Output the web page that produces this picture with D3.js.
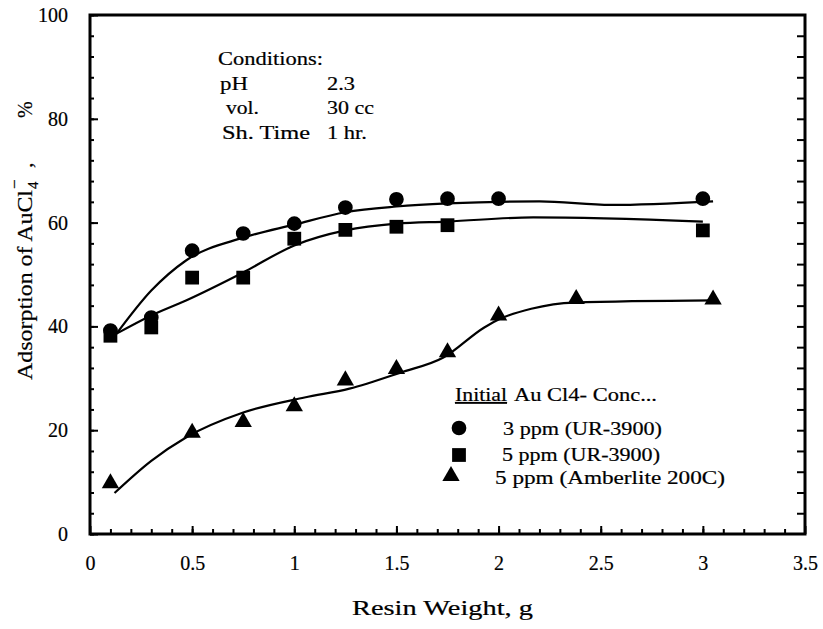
<!DOCTYPE html>
<html>
<head>
<meta charset="utf-8">
<script src="https://cdn.jsdelivr.net/npm/d3@7"></script>
<style>
  body { margin: 0; background: #fff; }
  svg { font-family: "Liberation Serif", "DejaVu Serif", serif; }
  svg text { fill: #000; stroke: #000; stroke-width: 0.2; }
  .axis path { display: none; }
  .axis line { stroke: #000; stroke-width: 2; }
  .axis text { font-size: 20px; font-family: "Liberation Serif", serif; }
  .fit { fill: none; stroke: #000; stroke-width: 2.2; }
</style>
</head>
<body>
<svg width="823" height="629"></svg>
<script>
// tick labels
var xTicks = [0, 0.5, 1, 1.5, 2, 2.5, 3, 3.5];
var yTicks = [0, 20, 40, 60, 80, 100];

// measured points
var circleX = [0.1, 0.3, 0.5, 0.75, 1, 1.25, 1.5, 1.75, 2, 3];
var circleY = [39.2, 41.7, 54.6, 57.9, 59.8, 62.9, 64.5, 64.6, 64.6, 64.6];
var squareX = [0.1, 0.3, 0.5, 0.75, 1, 1.25, 1.5, 1.75, 3];
var squareY = [38.2, 39.8, 49.4, 49.4, 56.9, 58.6, 59.2, 59.5, 58.5];
var triX = [0.1, 0.5, 0.75, 1, 1.25, 1.5, 1.75, 2, 2.38, 3.05];
var triY = [9.8, 19.5, 21.6, 24.6, 29.6, 31.8, 35, 42.1, 45.3, 45.2];

// hand-drawn fit curves
var circleFitX = [0.13, 0.3, 0.47, 0.75, 1, 1.25, 1.5, 1.75, 2.2, 2.55, 3.05];
var circleFitY = [38.6, 46.9, 52.7, 57.1, 59.6, 62, 63.1, 63.7, 64.1, 63.4, 64.1];
var squareFitX = [0.13, 0.3, 0.47, 0.75, 1, 1.25, 1.5, 1.75, 2.17, 3.0];
var squareFitY = [38.6, 42.1, 45, 50.4, 55.6, 58.5, 59.8, 60.2, 61, 60.2];
var triFitX = [0.12, 0.3, 0.47, 0.75, 1.05, 1.27, 1.52, 1.73, 1.93, 2.01, 2.16, 2.37, 3.05];
var triFitY = [7.9, 14.1, 18.6, 23.4, 26.3, 28, 31.1, 34, 39.8, 41.5, 43.4, 44.6, 45];

var legendTitle = "Au Cl4- Conc...";
var legendLabels = ["3 ppm (UR-3900)", "5 ppm (UR-3900)", "5 ppm  (Amberlite 200C)"];

var svg = d3.select("svg");
var x = d3.scaleLinear().domain([0, 3.5]).range([90, 805]);
var y = d3.scaleLinear().domain([0, 100]).range([534, 15]);

// minor ticks
svg.append("g").attr("class", "axis")
    .attr("transform", "translate(90,0)")
    .call(d3.axisLeft(y).tickValues(d3.range(0, 101, 4)).tickSize(-4).tickFormat(""));
svg.append("g").attr("class", "axis")
    .attr("transform", "translate(805,0)")
    .call(d3.axisRight(y).tickValues(d3.range(4, 100, 4)).tickSize(-8).tickFormat(""));
svg.append("g").attr("class", "axis")
    .attr("transform", "translate(0,534)")
    .call(d3.axisBottom(x).tickValues(d3.range(0.1, 3.45, 0.1)).tickSize(-5).tickFormat(""));

// major ticks + labels
svg.append("g").attr("class", "axis")
    .attr("transform", "translate(90,0)")
    .call(d3.axisLeft(y).tickValues(yTicks).tickSize(-8).tickPadding(22).tickFormat(d3.format("d")));
svg.append("g").attr("class", "axis")
    .attr("transform", "translate(0,534)")
    .call(d3.axisBottom(x).tickValues(xTicks).tickSize(-8).tickPadding(22).tickFormat(function (d) { return d; }));

// frame
svg.append("rect")
    .attr("x", x(0)).attr("y", y(100))
    .attr("width", x(3.5) - x(0)).attr("height", y(0) - y(100))
    .attr("fill", "none").attr("stroke", "#000").attr("stroke-width", 3);

// fit curves
var line = d3.line().curve(d3.curveMonotoneX)
    .x(function (d) { return x(d[0]); })
    .y(function (d) { return y(d[1]); });
[[circleFitX, circleFitY], [squareFitX, squareFitY], [triFitX, triFitY]].forEach(function (s) {
  svg.append("path").attr("class", "fit").attr("d", line(d3.zip(s[0], s[1])));
});

// markers
var sym = {
  circle: d3.symbol().type(d3.symbolCircle).size(170),
  square: d3.symbol().type(d3.symbolSquare).size(190),
  tri: d3.symbol().type(d3.symbolTriangle).size(130)
};
function marks(xs, ys, s) {
  svg.append("g").selectAll("path")
    .data(d3.zip(xs, ys))
    .enter().append("path")
      .attr("d", s)
      .attr("fill", "#000")
      .attr("transform", function (d) { return "translate(" + x(d[0]) + "," + y(d[1]) + ")"; });
}
marks(circleX, circleY, sym.circle);
marks(squareX, squareY, sym.square);
marks(triX, triY, sym.tri);

function label(g, t, px, py, w) {
  g.append("text").attr("x", px).attr("y", py)
    .attr("textLength", w).attr("lengthAdjust", "spacingAndGlyphs")
    .text(t);
}

// conditions box text
var cond = svg.append("g").attr("font-size", 19);
label(cond, "Conditions:", 218, 65, 105);
[["pH", "2.3", 220, 28, 28, 90], ["vol.", "30 cc", 226, 33, 47, 114], ["Sh. Time", "1 hr.", 222, 88, 40, 139]].forEach(function (r) {
  label(cond, r[0], r[2], r[5], r[3]);
  label(cond, r[1], 327, r[5], r[4]);
});

// legend
var leg = svg.append("g").attr("font-size", 18);
leg.append("text").attr("x", 455).attr("y", 401)
    .attr("text-decoration", "underline")
    .attr("textLength", 52).attr("lengthAdjust", "spacingAndGlyphs")
    .text("Initial");
label(leg, legendTitle, 514, 401, 143);
var legSym = [sym.circle, sym.square, sym.tri];
var legSymX = [459, 459, 451];
var legSymY = [428, 455, 476];
var legTextX = [503, 502, 495];
var legTextY = [435, 461, 484];
var legTextW = [159, 158, 230];
legendLabels.forEach(function (t, i) {
  leg.append("path").attr("d", legSym[i]).attr("fill", "#000")
    .attr("transform", "translate(" + legSymX[i] + "," + legSymY[i] + ")");
  label(leg, t, legTextX[i], legTextY[i], legTextW[i]);
});

// axis titles
svg.append("text")
    .attr("x", 352).attr("y", 615)
    .attr("font-size", 21)
    .attr("textLength", 181).attr("lengthAdjust", "spacingAndGlyphs")
    .text("Resin Weight,  g");

var yl = svg.append("g").attr("transform", "translate(32,380) rotate(-90)");
yl.append("text").attr("x", 0).attr("y", 0).attr("font-size", 22)
    .attr("textLength", 190).attr("lengthAdjust", "spacingAndGlyphs")
    .text("Adsorption of AuCl");
yl.append("text").attr("x", 191).attr("y", 6).attr("font-size", 15).text("4");
yl.append("text").attr("x", 191).attr("y", -12).attr("font-size", 17).text("\u2212");
yl.append("text").attr("x", 212).attr("y", 0).attr("font-size", 22).text(",");
yl.append("text").attr("x", 262).attr("y", 0).attr("font-size", 20).text("%");
</script>
</body>
</html>
